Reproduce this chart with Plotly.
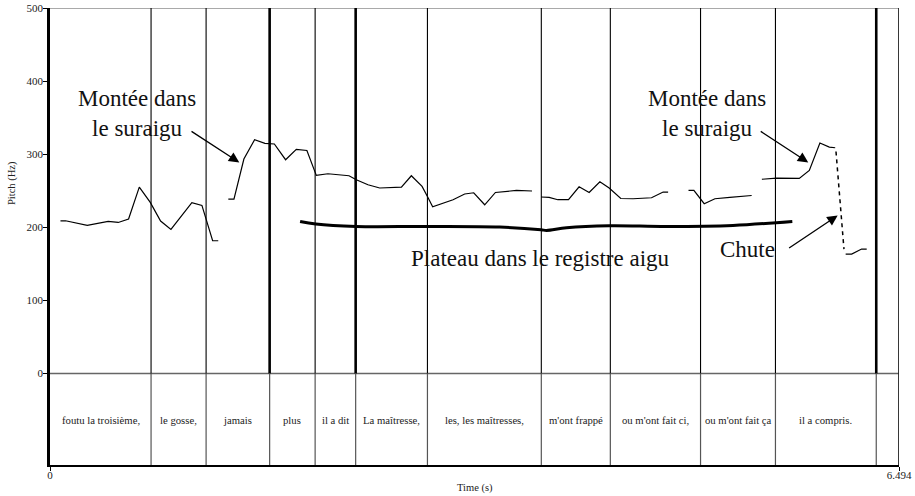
import plotly.graph_objects as go

# ---------------- data ----------------
T_MAX = 6.494
Y_MIN, Y_MAX = -125, 500

# pitch contour (s, Hz); None separates voiced stretches
pitch_time = [0.080, 0.119, 0.285, 0.361, 0.445, 0.522, 0.601, 0.683, 0.767, 0.846, 0.925, 1.085, 1.162, 1.244, 1.287, None,
              1.364, 1.407, 1.483, 1.565, 1.644, 1.716, 1.802, 1.884, 1.965, 2.037, 2.126, 2.287, 2.343, 2.432, 2.522,
              2.688, 2.764, 2.846, 2.887, 2.927, 3.083, 3.172, 3.241, 3.325, 3.407, 3.568, 3.687, None,
              3.756, 3.818, 3.884, 3.966, 4.047, 4.124, 4.206, 4.277, 4.366, 4.460, 4.601, 4.690, 4.728, None,
              4.884, 4.925, 5.004, 5.086, 5.200, 5.367, None,
              5.445, 5.558, 5.731, 5.808, 5.889, 5.961, 6.006, None,
              6.086, 6.132, 6.208, 6.247]
pitch_hz = [209.0, 209.0, 202.6, 205.3, 208.1, 206.7, 211.4, 255.1, 234.1, 208.6, 197.1, 233.7, 230.0, 181.7, 181.7, None,
            238.7, 238.7, 293.4, 319.8, 314.8, 314.0, 292.5, 306.6, 305.2, 271.0, 273.3, 270.6, 265.1, 258.3, 253.8,
            255.1, 270.6, 256.0, 242.3, 228.2, 237.8, 245.6, 247.3, 230.9, 247.7, 250.5, 249.7, None,
            241.5, 240.9, 237.8, 237.8, 255.5, 247.7, 262.4, 253.8, 239.5, 239.1, 240.5, 248.3, 248.3, None,
            250.5, 250.5, 232.3, 239.1, 240.9, 243.6, None,
            265.8, 267.4, 266.9, 277.8, 315.3, 309.8, 308.9, None,
            163.5, 163.5, 170.3, 170.3]

# dashed final fall
fall_time = [6.012, 6.073]
fall_hz = [303.8, 170.3]

# stylised plateau
plateau_time = [1.913, 2.033, 2.342, 2.887, 3.440, 3.756, 3.798, 3.951, 4.277, 4.717, 5.224, 5.678]
plateau_hz = [208.1, 204.5, 201.2, 201.2, 200.4, 196.7, 195.8, 199.5, 202.2, 201.2, 202.6, 208.1]

# segmentation tier
boundaries = [0.773, 1.194, 1.680, 2.028, 2.338, 2.887, 3.758, 4.286, 4.976, 5.549, 6.320]
major_boundaries = [1.680, 2.338, 6.320]
segment_labels = ["foutu la troisième,", "le gosse,", "jamais", "plus", "il a dit", "La maîtresse,",
                  "les, les maîtresses,", "m'ont frappé", "ou m'ont fait ci,", "ou m'ont fait ça",
                  "il a compris.", ""]

y_ticks = [0, 100, 200, 300, 400, 500]
x_ticks = [0, T_MAX]
x_tick_text = ["0", "6.494"]

SERIF = "Liberation Serif"

fig = go.Figure()

fig.add_trace(go.Scatter(x=pitch_time, y=pitch_hz, mode="lines",
                         line=dict(color="black", width=1.2), connectgaps=False, hoverinfo="skip"))
fig.add_trace(go.Scatter(x=fall_time, y=fall_hz, mode="lines",
                         line=dict(color="black", width=1.5, dash="4px,4px"), hoverinfo="skip"))
fig.add_trace(go.Scatter(x=plateau_time, y=plateau_hz, mode="lines",
                         line=dict(color="black", width=3, shape="spline"), hoverinfo="skip"))

shapes = []
shapes.append(dict(type="line", xref="x", yref="y", x0=0, x1=T_MAX, y0=0, y1=0,
                   line=dict(color="#666666", width=1.5)))
shapes.append(dict(type="line", xref="x", yref="y", x0=0, x1=T_MAX, y0=Y_MAX, y1=Y_MAX,
                   line=dict(color="#555555", width=1.2)))
shapes.append(dict(type="line", xref="x", yref="y", x0=T_MAX, x1=T_MAX, y0=Y_MIN, y1=Y_MAX,
                   line=dict(color="#222222", width=1.8)))
for b in boundaries:
    w = 2.6 if b in major_boundaries else 1.1
    shapes.append(dict(type="line", xref="x", yref="y", x0=b, x1=b, y0=0, y1=Y_MAX,
                       line=dict(color="black", width=w)))
    shapes.append(dict(type="line", xref="x", yref="y", x0=b, x1=b, y0=Y_MIN, y1=0,
                       line=dict(color="#555555", width=1.2)))

annotations = []
edges = [0] + boundaries + [T_MAX]
for i, lab in enumerate(segment_labels):
    if lab:
        annotations.append(dict(x=(edges[i] + edges[i + 1]) / 2, y=-63, xref="x", yref="y",
                                text=lab, showarrow=False,
                                font=dict(family=SERIF, size=10.7, color="#222222")))

big = dict(family=SERIF, size=23, color="#111111")
annotations += [
    dict(x=0.669, y=356, xref="x", yref="y", text="Montée dans<br>le suraigu", showarrow=False, font=big),
    dict(x=5.027, y=356, xref="x", yref="y", text="Montée dans<br>le suraigu", showarrow=False, font=big),
    dict(x=3.748, y=157, xref="x", yref="y", text="Plateau dans le registre aigu", showarrow=False, font=big),
    dict(x=5.336, y=169.4, xref="x", yref="y", text="Chute", showarrow=False, font=big),
]
# arrows (tail -> tip)
for (tx, ty, hx, hy) in [(1.071, 332.6, 1.448, 288.8), (5.425, 332.6, 5.800, 288.8), (5.642, 170.3, 6.025, 216.3)]:
    annotations.append(dict(x=hx, y=hy, ax=tx, ay=ty, xref="x", yref="y", axref="x", ayref="y",
                            text="", showarrow=True, arrowhead=2, arrowsize=1.6, arrowwidth=1.3,
                            arrowcolor="black", standoff=0, startstandoff=0))

annotations.append(dict(x=-0.0448, y=0.617, xref="paper", yref="paper", text="Pitch (Hz)",
                        xanchor="center", yanchor="middle",
                        textangle=-90, showarrow=False, font=dict(family=SERIF, size=10.5, color="#222222")))
annotations.append(dict(x=0.5, y=-0.0503, xref="paper", yref="paper", text="Time (s)",
                        xanchor="center", yanchor="middle",
                        showarrow=False, font=dict(family=SERIF, size=10.5, color="#222222")))

fig.update_layout(
    width=915, height=496,
    margin=dict(l=50, r=16, t=8, b=31, autoexpand=False),
    paper_bgcolor="white", plot_bgcolor="white",
    showlegend=False, hovermode=False,
    font=dict(family=SERIF),
    shapes=shapes, annotations=annotations,
    xaxis=dict(range=[0, T_MAX], tickvals=x_ticks, ticktext=x_tick_text, ticks="outside", ticklen=4,
               tickwidth=1.2, tickcolor="black", showgrid=False, zeroline=False, automargin=False,
               showline=True, linewidth=2.2, linecolor="black", ticklabelstandoff=-5,
               tickfont=dict(family=SERIF, size=11, color="#222222")),
    yaxis=dict(range=[Y_MIN, Y_MAX], tickvals=y_ticks, ticks="outside", ticklen=4,
               tickwidth=1.2, tickcolor="black", showgrid=False, zeroline=False, automargin=False,
               showline=True, linewidth=2.6, linecolor="black", ticklabelstandoff=-2,
               tickfont=dict(family=SERIF, size=11, color="#222222")),
)

fig.write_html("out.html", config={"displayModeBar": False},
               post_script="document.body.style.margin='0';")
